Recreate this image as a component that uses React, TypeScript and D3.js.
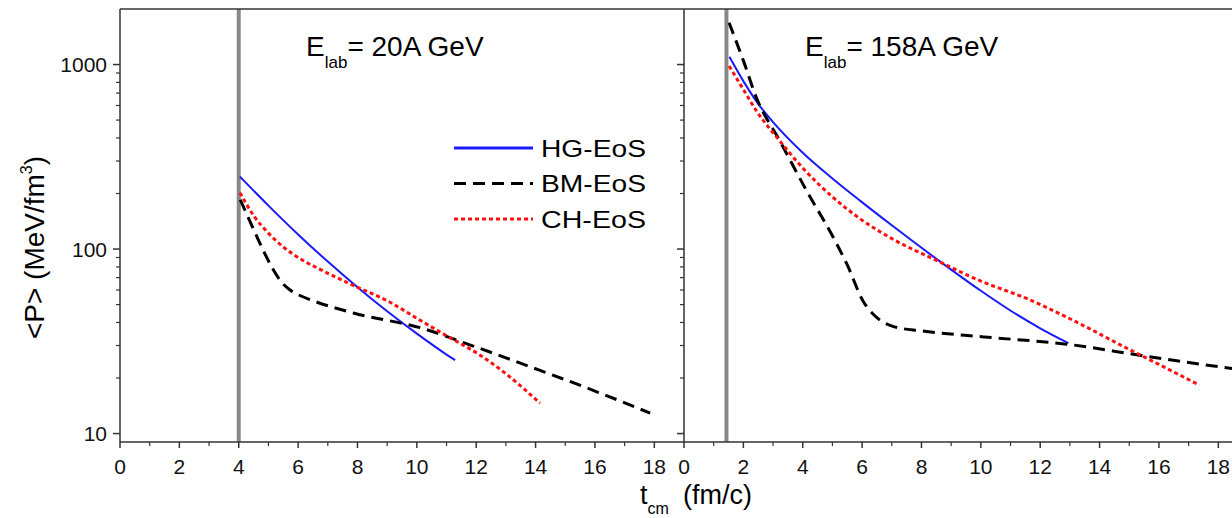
import React from "react";
import * as d3 from "d3";

// ---------- data ----------
const xTicks = [0, 2, 4, 6, 8, 10, 12, 14, 16, 18];
const xMinorTicks = [1, 3, 5, 7, 9, 11, 13, 15, 17];
const yTicks = [10, 100, 1000];
const yMinorTicks = [20, 30, 40, 50, 60, 70, 80, 90, 200, 300, 400, 500, 600, 700, 800, 900];

const legendLabels = ["HG-EoS", "BM-EoS", "CH-EoS"];

// Panel 1: E_lab = 20A GeV
const startTime20 = 4;
const hg20T = [4.04, 5, 6, 7, 8, 9, 10, 11, 11.29];
const hg20P = [247, 172, 120, 85.5, 62.1, 46, 34.8, 26.8, 25];
const bm20T = [4.05, 4.48, 4.83, 5.15, 5.45, 5.73, 6.06, 6.5, 7.86, 10.1, 11.9, 14.15, 16, 17.86];
const bm20P = [185, 130, 98, 78, 66, 60, 56, 52.5, 45, 37.5, 29.8, 22, 17, 12.9];
const ch20T = [4.04, 4.5, 5.0, 5.5, 6.0, 6.74, 7.86, 9, 10.1, 11, 12.13, 13, 14.15];
const ch20P = [202, 152, 122, 102.6, 90, 77.6, 63.5, 52.5, 41.2, 33.9, 26.6, 21.1, 14.6];

// Panel 2: E_lab = 158A GeV
const startTime158 = 1.43;
const hg158T = [1.53, 2.0, 2.45, 3.0, 4.0, 5.0, 5.93, 7.0, 8.63, 10.0, 10.98, 12, 12.95];
const hg158P = [1102, 813, 628, 488, 333, 241.5, 183, 134.5, 85.5, 59.4, 46.6, 37.2, 30.9];
const bm158T = [1.52, 2.0, 2.44, 3.23, 4.13, 5.0, 5.5, 6.04, 6.5, 7.06, 8, 10.1, 12.9, 15.4, 18.2, 19];
const bm158P = [1683, 1050, 661, 385, 207, 118, 82, 52, 42.5, 38, 36, 33.4, 30.5, 26.5, 22.8, 21.9];
const ch158T = [1.52, 2.0, 2.44, 3.23, 4.0, 5.03, 5.93, 7.0, 8.52, 10.0, 11.56, 13.0, 14.94, 16.0, 17.36];
const ch158P = [982, 733, 561, 385, 275, 190, 146, 114, 86.6, 67, 53.8, 41.9, 28.9, 23.7, 18.3];

// ---------- layout ----------
const W = 1232;
const H = 518;
const top = 9;
const bottom = 442;
const panels = [
  { x0: 120, x1: 684, title: "= 20A GeV", titleX: 306, start: startTime20,
    series: [[hg20T, hg20P], [bm20T, bm20P], [ch20T, ch20P]], labels: true },
  { x0: 684, x1: 1248, title: "= 158A GeV", titleX: 805, start: startTime158,
    series: [[hg158T, hg158P], [bm158T, bm158P], [ch158T, ch158P]], labels: false },
];

const styles = [
  { stroke: "#1a1aff", width: 2, dash: "" },
  { stroke: "#000", width: 3, dash: "12,7" },
  { stroke: "#ff1010", width: 3, dash: "4,3" },
];

const font = "'Liberation Sans', Arial, sans-serif";
const axisColor = "#333";

const y = d3.scaleLog().domain([9, 2000]).range([bottom, top]);

export default function App() {
  return (
    <svg
      width={W}
      height={H}
      style={{ position: "absolute", left: 0, top: 0, background: "#fff" }}
      fontFamily={font}
    >
      <defs>
        <clipPath id="clipAll">
          <rect x={0} y={top} width={W} height={bottom - top} />
        </clipPath>
      </defs>
      {panels.map((p, pi) => {
        const x = d3.scaleLinear().domain([0, 19]).range([p.x0, p.x1]);
        const line = d3
          .line<[number, number]>()
          .x((d) => x(d[0]))
          .y((d) => y(d[1]))
          .curve(d3.curveMonotoneX);
        return (
          <g key={pi}>
            {/* start time marker */}
            <line x1={x(p.start)} x2={x(p.start)} y1={top} y2={bottom} stroke="#888" strokeWidth={4} />
            {/* curves */}
            <g clipPath="url(#clipAll)">
              {p.series.map((s, si) => {
                const pts = (s[0] as number[]).map((t, i) => [t, (s[1] as number[])[i]] as [number, number]);
                return (
                  <path
                    key={si}
                    d={line(pts) || ""}
                    fill="none"
                    stroke={styles[si].stroke}
                    strokeWidth={styles[si].width}
                    strokeDasharray={styles[si].dash || undefined}
                  />
                );
              })}
            </g>
            {/* y axis line */}
            <line x1={p.x0} x2={p.x0} y1={top} y2={bottom} stroke={axisColor} strokeWidth={1.5} />
            {yTicks.map((v) => (
              <line key={"ym" + v} x1={p.x0 - 7} x2={p.x0} y1={y(v)} y2={y(v)} stroke={axisColor} strokeWidth={1.5} />
            ))}
            {yMinorTicks.map((v) => (
              <line key={"yn" + v} x1={p.x0 - 4} x2={p.x0} y1={y(v)} y2={y(v)} stroke={axisColor} strokeWidth={1.2} />
            ))}
            {p.labels &&
              yTicks.map((v) => (
                <text key={"yl" + v} x={107} y={y(v) + 7.5} fontSize={21} textAnchor="end" fill="#111">
                  {v}
                </text>
              ))}
            {/* x ticks */}
            {xTicks.map((t) => (
              <g key={"xt" + t}>
                <line x1={x(t)} x2={x(t)} y1={bottom} y2={bottom + 6} stroke={axisColor} strokeWidth={1.5} />
                <text x={x(t)} y={474} fontSize={21} textAnchor="middle" fill="#111">
                  {t}
                </text>
              </g>
            ))}
            {xMinorTicks.map((t) => (
              <line key={"xn" + t} x1={x(t)} x2={x(t)} y1={bottom} y2={bottom + 4} stroke={axisColor} strokeWidth={1.2} />
            ))}
            {/* title */}
            <text x={p.titleX} y={56} fontSize={28} fill="#000">
              E
              <tspan fontSize={17} dy={12}>lab</tspan>
              <tspan fontSize={28} dy={-12}>{p.title}</tspan>
            </text>
          </g>
        );
      })}
      {/* frame */}
      <line x1={120} x2={W} y1={top} y2={top} stroke={axisColor} strokeWidth={1.5} />
      <line x1={120} x2={W} y1={bottom} y2={bottom} stroke={axisColor} strokeWidth={1.5} />

      {/* legend */}
      {legendLabels.map((lab, i) => {
        const ly = [148, 183.5, 219][i];
        return (
          <g key={lab}>
            <line
              x1={454}
              x2={533}
              y1={ly}
              y2={ly}
              stroke={styles[i].stroke}
              strokeWidth={styles[i].width + (i === 0 ? 1 : 0)}
              strokeDasharray={styles[i].dash || undefined}
            />
            <text x={541} y={ly + 8.5} fontSize={24} fill="#000" textLength={105} lengthAdjust="spacingAndGlyphs">
              {lab}
            </text>
          </g>
        );
      })}

      {/* x axis label */}
      <text x={640} y={504} fontSize={27} fill="#000">
        t
        <tspan fontSize={16} dy={10}>cm</tspan>
        <tspan x={683} dy={-10} fontSize={27}>(fm/c)</tspan>
      </text>

      {/* y axis label */}
      <text transform="translate(44,247.5) rotate(-90)" textAnchor="middle" fontSize={28} fill="#000">
        {"<P> (MeV/fm"}
        <tspan fontSize={16} dy={-12}>3</tspan>
        <tspan dy={12}>)</tspan>
      </text>
    </svg>
  );
}
